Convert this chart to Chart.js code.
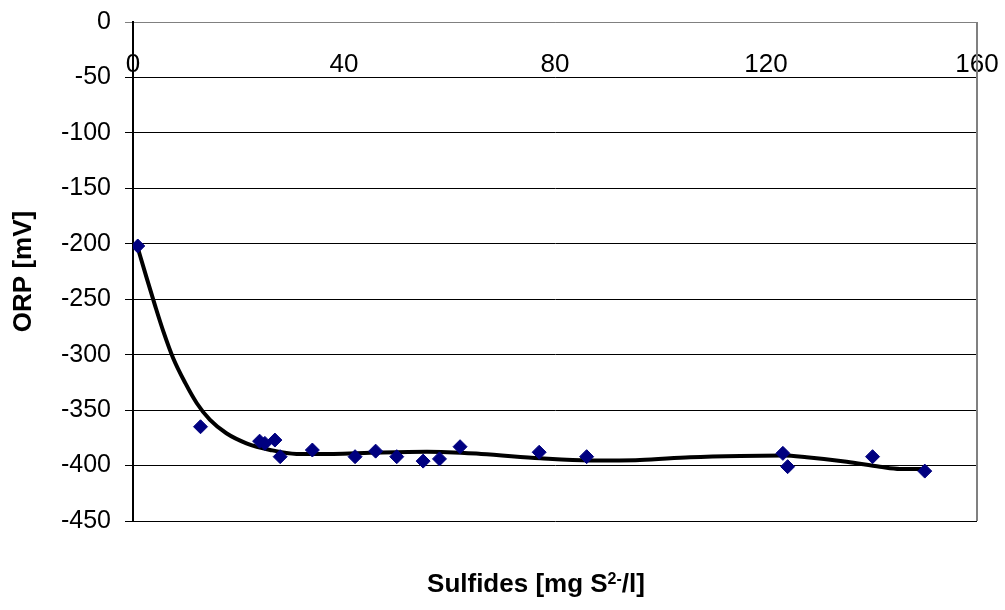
<!DOCTYPE html>
<html>
<head>
<meta charset="utf-8">
<script src="https://cdn.jsdelivr.net/npm/chart.js@4.4.1/dist/chart.umd.min.js"></script>
<style>
  html, body { margin: 0; padding: 0; background: #fff; }
  #wrap { width: 1005px; height: 610px; }
</style>
</head>
<body>
<div id="wrap"><canvas id="myChart" width="1005" height="610"></canvas></div>
<script>
// measured points (sulfides mg/l, ORP mV)
const sulfides = [0.9, 12.8, 24, 25, 26.9, 27.9, 34, 42.1, 46, 50, 55, 58.1, 62, 77, 86, 123.2, 124.1, 140.2, 150.1]
const orp = [-202, -365, -378, -380, -377, -392, -386, -392, -387, -392, -396, -394, -383, -388, -392, -389, -401, -392, -405]

// trend line
const trendX = [0.8, 2.6, 4.2, 5.75, 7.6, 9.9, 12.1, 14.6, 17.7, 21.5, 26, 31, 38, 45, 55.7, 66, 77.2, 86.6, 96.1, 105.6, 115.1, 123.3, 127.7, 135.3, 141.6, 145.4, 150.1]
const trendY = [-202, -231, -256, -279, -303, -325.5, -343.8, -358.9, -370.9, -379.9, -385.9, -389.5, -389.5, -388.5, -387.5, -389.5, -393.5, -395.5, -395, -392.5, -391.3, -391, -392.5, -396.5, -401, -403, -403]

const xTicks = [0, 40, 80, 120, 160]
const yTicks = [0, -50, -100, -150, -200, -250, -300, -350, -400, -450]

const points = sulfides.map((x, i) => ({x: x, y: orp[i]}))
const trend = trendX.map((x, i) => ({x: x, y: trendY[i]}))

const font = "'Liberation Sans', Arial, sans-serif"

const noPad = (s) => {
    s.paddingLeft = 0
    s.paddingRight = 0
    s.paddingTop = 0
    s.paddingBottom = 0
}

const frame = {
    id: 'frame',
    afterDraw(chart) {
        const ctx = chart.ctx
        const a = chart.chartArea
        ctx.save()
        ctx.strokeStyle = '#808080'
        ctx.lineWidth = 2
        ctx.beginPath()
        ctx.moveTo(a.right, a.top)
        ctx.lineTo(a.right, a.bottom)
        ctx.stroke()

        // x axis title with superscript
        const big = 'bold 26px ' + font
        const small = 'bold 16px ' + font
        const p1 = 'Sulfides [mg S', p2 = '2-', p3 = '/l]'
        ctx.font = big
        const w1 = ctx.measureText(p1).width, w3 = ctx.measureText(p3).width
        ctx.font = small
        const w2 = ctx.measureText(p2).width
        let x = 536 - (w1 + w2 + w3) / 2
        const base = 592
        ctx.fillStyle = '#000'
        ctx.textBaseline = 'alphabetic'
        ctx.textAlign = 'left'
        ctx.font = big
        ctx.fillText(p1, x, base)
        x += w1
        ctx.font = small
        ctx.fillText(p2, x, base - 8)
        x += w2
        ctx.font = big
        ctx.fillText(p3, x, base)
        ctx.restore()
    }
}

let ctx = document.getElementById('myChart').getContext('2d')
let myChart = new Chart(ctx, {
    data: {
        datasets: [{
            type: 'scatter',
            data: points,
            pointStyle: 'rectRot',
            pointRadius: 7,
            pointHoverRadius: 7,
            backgroundColor: '#000080',
            borderColor: '#000080',
            borderWidth: 1
        }, {
            type: 'line',
            data: trend,
            borderColor: '#000',
            borderWidth: 4,
            pointRadius: 0,
            fill: false,
            cubicInterpolationMode: 'monotone'
        }]
    },
    options: {
        responsive: false,
        animation: false,
        layout: { padding: { left: 0, top: 22, right: 28, bottom: 89 } },
        plugins: {
            legend: { display: false },
            tooltip: { enabled: false }
        },
        scales: {
            x: {
                type: 'linear',
                position: { y: 0 },
                min: 0,
                max: 160,
                afterBuildTicks: (s) => { s.ticks = xTicks.map(v => ({value: v})) },
                afterFit: (s) => { s.height = 0; noPad(s) },
                grid: { display: false, drawTicks: false },
                border: { display: true, color: '#808080', width: 1 },
                ticks: { color: '#000', padding: 27, maxRotation: 0, font: { family: font, size: 26 } }
            },
            y: {
                type: 'linear',
                min: -450,
                max: 0,
                afterBuildTicks: (s) => { s.ticks = yTicks.map(v => ({value: v})) },
                afterFit: (s) => { s.width = 133; noPad(s) },
                grid: {
                    color: (c) => c.tick && c.tick.value === 0 ? '#808080' : '#000',
                    lineWidth: 1,
                    tickLength: 8
                },
                border: { display: true, color: '#000', width: 2 },
                ticks: { color: '#000', padding: 14, font: { family: font, size: 25 } },
                title: {
                    display: true,
                    text: 'ORP [mV]',
                    color: '#000',
                    padding: { top: 8, bottom: 0 },
                    font: { family: font, size: 26, weight: 'bold' }
                }
            }
        }
    },
    plugins: [frame]
})
</script>
</body>
</html>
